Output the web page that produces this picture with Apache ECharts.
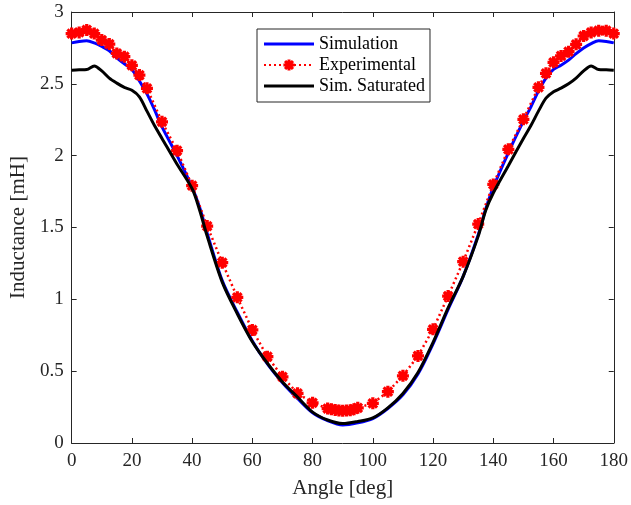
<!DOCTYPE html>
<html>
<head>
<meta charset="utf-8">
<script src="https://cdn.jsdelivr.net/npm/echarts@6/dist/echarts.min.js"></script>
<style>
html,body{margin:0;padding:0;background:#fff;}
#chart{width:631px;height:505px;}
</style>
</head>
<body>
<div id="chart"></div>
<script>
// ---- data ----
const seriesNames = ['Simulation', 'Experimental', 'Sim. Saturated'];
const xTicks = [0, 20, 40, 60, 80, 100, 120, 140, 160, 180];
const yTicks = [0, 0.5, 1, 1.5, 2, 2.5, 3];

const angleSim = [0, 2.5, 5, 7.5, 10, 12.5, 15, 17.5, 20, 22.5, 25, 27.5, 30, 35, 40, 42.5, 45, 50, 55, 60, 65, 70, 75, 80, 85, 90, 95, 100, 105, 110, 115, 120, 125, 130, 135, 137.5, 140, 145, 150, 152.5, 155, 157.5, 160, 162.5, 165, 167.5, 170, 172.5, 175, 177.5, 180];
const simulation = [2.785, 2.795, 2.80, 2.785, 2.76, 2.73, 2.68, 2.64, 2.60, 2.52, 2.43, 2.32, 2.20, 2.00, 1.78, 1.64, 1.46, 1.13, 0.91, 0.71, 0.55, 0.42, 0.31, 0.21, 0.155, 0.125, 0.14, 0.17, 0.24, 0.335, 0.48, 0.69, 0.93, 1.16, 1.45, 1.63, 1.78, 2.02, 2.24, 2.34, 2.45, 2.54, 2.60, 2.63, 2.665, 2.71, 2.75, 2.78, 2.80, 2.795, 2.785];
const simSaturated = [2.595, 2.598, 2.60, 2.625, 2.59, 2.54, 2.505, 2.475, 2.455, 2.41, 2.31, 2.21, 2.12, 1.94, 1.77, 1.62, 1.44, 1.12, 0.90, 0.705, 0.555, 0.425, 0.32, 0.215, 0.16, 0.135, 0.15, 0.175, 0.245, 0.345, 0.49, 0.70, 0.94, 1.16, 1.44, 1.62, 1.74, 1.93, 2.12, 2.21, 2.31, 2.40, 2.445, 2.47, 2.50, 2.54, 2.59, 2.625, 2.60, 2.598, 2.595];

const angleExp = [0, 2.5, 5, 7.5, 10, 12.5, 15, 17.5, 20, 22.5, 25, 30, 35, 40, 45, 50, 55, 60, 65, 70, 75, 80, 85, 86.25, 87.5, 88.75, 90, 91.25, 92.5, 93.75, 95, 100, 105, 110, 115, 120, 125, 130, 135, 140, 145, 150, 155, 157.5, 160, 162.5, 165, 167.5, 170, 172.5, 175, 177.5, 180];
const experimental = [2.85, 2.858, 2.875, 2.85, 2.805, 2.777, 2.712, 2.689, 2.629, 2.561, 2.469, 2.236, 2.035, 1.791, 1.51, 1.255, 1.014, 0.787, 0.601, 0.461, 0.346, 0.28, 0.24, 0.235, 0.23, 0.227, 0.225, 0.226, 0.228, 0.235, 0.245, 0.276, 0.357, 0.468, 0.606, 0.791, 1.023, 1.262, 1.524, 1.80, 2.044, 2.253, 2.476, 2.573, 2.65, 2.694, 2.724, 2.775, 2.833, 2.858, 2.87, 2.87, 2.85];

// ---- chart ----
const FONT = '"Liberation Serif", "Times New Roman", serif';
const AXIS_COLOR = '#262626';

// 8-armed asterisk as a single polygon (marker shape)
function asteriskPath(w) {
  const c = 5, R = 5, L = Math.sqrt(R * R - w * w);
  const rIn = w / Math.sin(Math.PI / 8);
  const pts = [];
  for (let k = 0; k < 8; k++) {
    const t = k * Math.PI / 4;
    const dx = Math.cos(t), dy = Math.sin(t), px = -dy, py = dx;
    pts.push([c + L * dx - w * px, c + L * dy - w * py]);
    pts.push([c + L * dx + w * px, c + L * dy + w * py]);
    const ti = t + Math.PI / 8;
    pts.push([c + rIn * Math.cos(ti), c + rIn * Math.sin(ti)]);
  }
  return 'path://M' + pts.map(p => p[0].toFixed(3) + ',' + p[1].toFixed(3)).join('L') + 'Z';
}
const star = asteriskPath(1.3);
const lineIcon = 'path://M0,0L50,0L50,3L0,3Z';

const zip = (xs, ys) => xs.map((x, i) => [x, ys[i]]);

const baseX = {
  type: 'value', min: 0, max: 180, interval: 20,
  splitLine: { show: false },
  axisLine: { show: true, onZero: false, lineStyle: { color: AXIS_COLOR, width: 1 } },
  axisTick: { show: true, inside: true, length: 5, lineStyle: { color: AXIS_COLOR } }
};
const baseY = {
  type: 'value', min: 0, max: 3, interval: 0.5,
  splitLine: { show: false },
  axisLine: { show: true, onZero: false, lineStyle: { color: AXIS_COLOR, width: 1 } },
  axisTick: { show: true, inside: true, length: 5, lineStyle: { color: AXIS_COLOR } }
};

const chart = echarts.init(document.getElementById('chart'), null, { renderer: 'canvas' });
chart.setOption({
  backgroundColor: '#ffffff',
  animation: false,
  textStyle: { fontFamily: FONT },
  grid: { left: 69, right: 16, top: 12, bottom: 62, containLabel: false },
  legend: {
    data: [
      { name: seriesNames[0], icon: lineIcon },
      { name: seriesNames[1] },
      { name: seriesNames[2], icon: lineIcon }
    ],
    orient: 'vertical',
    left: 257, top: 29,
    itemWidth: 50, itemHeight: 14, itemGap: 3,
    padding: [6, 5, 7, 6],
    backgroundColor: '#fff',
    borderColor: AXIS_COLOR, borderWidth: 1,
    textStyle: { fontFamily: FONT, fontSize: 18, color: '#000', lineHeight: 18 }
  },
  xAxis: [
    Object.assign({}, baseX, {
      position: 'bottom',
      name: 'Angle [deg]', nameLocation: 'middle', nameGap: 35,
      nameTextStyle: { fontFamily: FONT, fontSize: 21, color: AXIS_COLOR },
      axisLabel: { show: true, margin: 9, fontFamily: FONT, fontSize: 19, color: AXIS_COLOR,
        formatter: v => xTicks.includes(v) ? String(v) : '' }
    }),
    Object.assign({}, baseX, { position: 'top', axisLabel: { show: false } })
  ],
  yAxis: [
    Object.assign({}, baseY, {
      position: 'left',
      name: 'Inductance [mH]', nameLocation: 'middle', nameGap: 37,
      nameTextStyle: { fontFamily: FONT, fontSize: 21, color: AXIS_COLOR },
      axisLabel: { show: true, margin: 8, fontFamily: FONT, fontSize: 19, color: AXIS_COLOR,
        formatter: v => yTicks.includes(v) ? String(v) : '' }
    }),
    Object.assign({}, baseY, { position: 'right', axisLabel: { show: false } })
  ],
  series: [
    {
      name: seriesNames[0], type: 'line', xAxisIndex: 0, yAxisIndex: 0,
      data: zip(angleSim, simulation), smooth: 0.3,
      showSymbol: false, symbol: 'none',
      lineStyle: { color: '#0000ff', width: 3 }, itemStyle: { color: '#0000ff' }, z: 2
    },
    {
      name: seriesNames[1], type: 'line', xAxisIndex: 0, yAxisIndex: 0,
      data: zip(angleExp, experimental),
      symbol: star, symbolSize: 12, showSymbol: true,
      lineStyle: { color: '#ff0000', width: 2.5, type: [2, 3] },
      itemStyle: { color: '#ff0000', borderWidth: 0 }, z: 3
    },
    {
      name: seriesNames[2], type: 'line', xAxisIndex: 0, yAxisIndex: 0,
      data: zip(angleSim, simSaturated), smooth: 0.3,
      showSymbol: false, symbol: 'none',
      lineStyle: { color: '#000000', width: 3 }, itemStyle: { color: '#000000' }, z: 4
    }
  ]
});
</script>
</body>
</html>
